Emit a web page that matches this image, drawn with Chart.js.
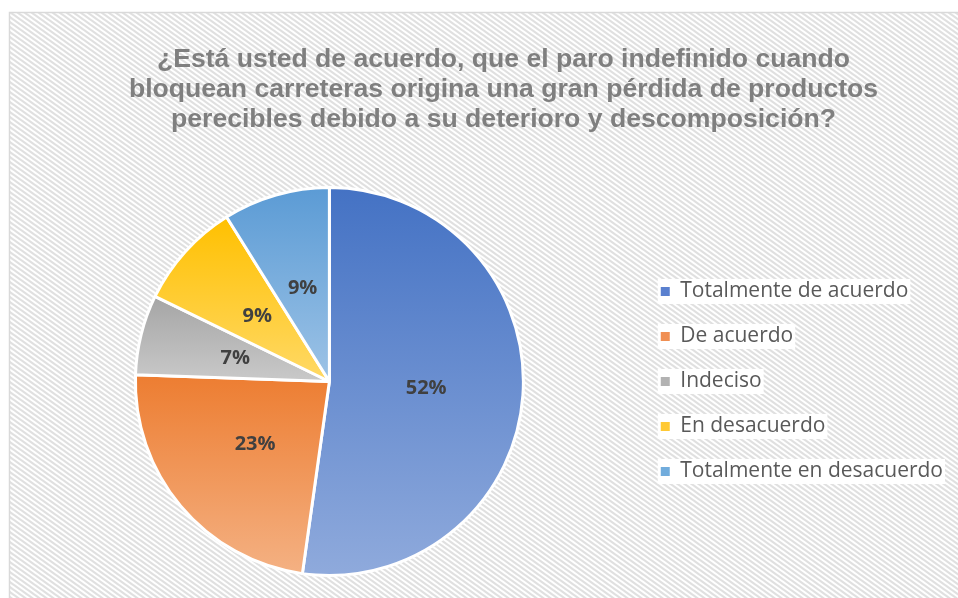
<!DOCTYPE html>
<html>
<head>
<meta charset="utf-8">
<script src="https://cdn.jsdelivr.net/npm/chart.js@4/dist/chart.umd.min.js"></script>
<style>
  html, body { margin: 0; padding: 0; background: #fff; }
  canvas { display: block; }
</style>
</head>
<body>
<canvas id="grafico" width="958" height="598"></canvas>
<script>
// datos del gráfico (respuestas, el porcentaje se calcula al dibujar)
const categorias = ['Totalmente de acuerdo', 'De acuerdo', 'Indeciso', 'En desacuerdo', 'Totalmente en desacuerdo'];
const respuestas = [47, 21, 6, 8, 8];
const titulo = [
    '¿Está usted de acuerdo, que el paro indefinido cuando',
    'bloquean carreteras origina una gran pérdida de productos',
    'perecibles debido a su deterioro y descomposición?'
];

// colores (arriba / abajo del degradado)
const coloresArriba = ['#4472c4', '#ed7d31', '#a5a5a5', '#ffc000', '#5b9bd5'];
const coloresAbajo = ['#8faadc', '#f4b183', '#c9c9c9', '#ffd966', '#9dc3e6'];
const coloresLeyenda = ['#5a80cf', '#f08f53', '#b2b2b2', '#ffc934', '#71acdc'];

const total = respuestas.reduce((a, b) => a + b, 0);

// degradado vertical para cada porción, según su propio alto
function degradado(context) {
    const i = context.dataIndex;
    const chart = context.chart;
    const area = chart.chartArea;
    if (!area || i === undefined) return coloresArriba[i] || coloresArriba[0];
    const ctrl = chart.getDatasetMeta(0).controller;
    const r = ctrl.outerRadius || Math.min(area.width, area.height) / 2;
    const cy = (area.top + area.bottom) / 2;
    let acum = 0;
    for (let j = 0; j < i; j++) acum += respuestas[j];
    const a0 = -Math.PI / 2 + acum / total * Math.PI * 2;
    const a1 = a0 + respuestas[i] / total * Math.PI * 2;
    let ymin = cy, ymax = cy;
    [a0, a1, -Math.PI / 2, Math.PI / 2, Math.PI * 1.5].forEach((a, k) => {
        if (k < 2 || (a >= a0 && a <= a1)) {
            const y = cy + r * Math.sin(a);
            ymin = Math.min(ymin, y);
            ymax = Math.max(ymax, y);
        }
    });
    const g = chart.ctx.createLinearGradient(0, ymin, 0, ymax);
    g.addColorStop(0, coloresArriba[i]);
    g.addColorStop(1, coloresAbajo[i]);
    return g;
}

// fondo rayado del área del gráfico
function crearTrama() {
    const w = 7, h = 5;
    const c = document.createElement('canvas');
    c.width = w; c.height = h;
    const x = c.getContext('2d');
    x.fillStyle = '#ffffff';
    x.fillRect(0, 0, w, h);
    x.strokeStyle = '#e0e0e0';
    x.lineWidth = 2.2;
    for (let k = -2; k <= 2; k++) {
        x.beginPath();
        x.moveTo(k * w - w, -h);
        x.lineTo(k * w + 2 * w, 2 * h);
        x.stroke();
    }
    return c;
}

const fondo = {
    id: 'fondo',
    beforeDraw(chart) {
        const ctx = chart.ctx;
        ctx.save();
        ctx.fillStyle = ctx.createPattern(crearTrama(), 'repeat');
        ctx.fillRect(9, 12, chart.width, chart.height);
        ctx.strokeStyle = '#d9d9d9';
        ctx.lineWidth = 1.5;
        ctx.strokeRect(9.5, 12.5, chart.width + 10, chart.height + 10);
        // fondo blanco detrás de cada elemento de la leyenda
        const cajas = chart.legend && chart.legend.legendHitBoxes;
        if (cajas) {
            ctx.fillStyle = '#ffffff';
            cajas.forEach(b => ctx.fillRect(b.left - 3, b.top - 2, b.width + 5, b.height + 4));
        }
        ctx.restore();
    }
};

// el título está centrado en el gráfico original completo (más ancho que la captura)
// y la leyenda se centra en vertical respecto al círculo
const ajustes = {
    id: 'ajustes',
    afterLayout(chart) {
        const t = chart.titleBlock;
        if (t) { t.left += 16; t.right += 16; }
        const l = chart.legend;
        if (l) {
            l.top = chart.chartArea.top;
            l.bottom = chart.chartArea.bottom;
            l.height = l.bottom - l.top;
        }
    }
};

const etiquetas = {
    id: 'etiquetas',
    afterDatasetsDraw(chart) {
        const ctx = chart.ctx;
        const meta = chart.getDatasetMeta(0);
        ctx.save();
        ctx.font = 'bold 20px "Open Sans"';
        ctx.fillStyle = '#404040';
        ctx.textAlign = 'center';
        ctx.textBaseline = 'middle';
        meta.data.forEach((arc, i) => {
            const p = arc.tooltipPosition();
            ctx.fillText(Math.round(respuestas[i] / total * 100) + '%', p.x, p.y);
        });
        ctx.restore();
    }
};

new Chart(document.getElementById('grafico'), {
    type: 'pie',
    data: {
        labels: categorias,
        datasets: [{
            data: respuestas,
            backgroundColor: degradado,
            borderColor: '#ffffff',
            borderWidth: 3
        }]
    },
    options: {
        responsive: false,
        animation: false,
        layout: { padding: { top: 12, left: 22, right: 5, bottom: 21 } },
        plugins: {
            title: {
                display: true,
                text: titulo,
                color: '#7f7f7f',
                font: { family: '"Liberation Sans", Arial, sans-serif', size: 26.6, weight: 'bold', lineHeight: 1.12 },
                padding: { top: 33, bottom: 51.6 }
            },
            legend: {
                position: 'right',
                labels: {
                    color: '#595959',
                    font: { family: '"Open Sans", sans-serif', size: 21 },
                    boxWidth: 9,
                    boxHeight: 9,
                    padding: 24,
                    generateLabels(chart) {
                        const items = Chart.overrides.pie.plugins.legend.labels.generateLabels(chart);
                        items.forEach((it, i) => {
                            it.fillStyle = coloresLeyenda[i];
                            it.strokeStyle = 'rgba(0,0,0,0)';
                            it.lineWidth = 0;
                        });
                        return items;
                    }
                }
            },
            tooltip: { enabled: false }
        }
    },
    plugins: [fondo, ajustes, etiquetas]
});
</script>
</body>
</html>
